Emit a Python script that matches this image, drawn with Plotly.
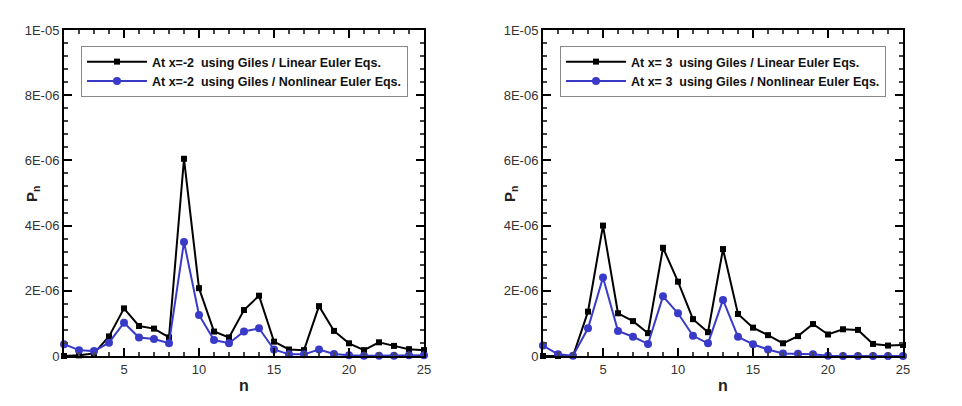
import plotly.graph_objects as go

n = list(range(1, 26))

left_linear = [0.0, 0.02, 0.08, 0.6, 1.46, 0.92, 0.84, 0.57, 6.05, 2.08, 0.75, 0.57, 1.41, 1.85,
               0.44, 0.2, 0.18, 1.53, 0.77, 0.39, 0.18, 0.42, 0.31, 0.21, 0.18]
left_nonlinear = [0.36, 0.18, 0.15, 0.41, 1.02, 0.57, 0.52, 0.39, 3.5, 1.26, 0.49, 0.39, 0.75, 0.85,
                  0.2, 0.05, 0.05, 0.2, 0.06, 0.02, 0.01, 0.01, 0.01, 0.02, 0.02]
right_linear = [0.0, 0.0, 0.0, 1.36, 4.0, 1.31, 1.07, 0.7, 3.32, 2.28, 1.13, 0.73, 3.28, 1.29,
                0.87, 0.64, 0.39, 0.61, 0.98, 0.66, 0.82, 0.8, 0.37, 0.32, 0.34]
right_nonlinear = [0.32, 0.05, 0.01, 0.85, 2.41, 0.77, 0.59, 0.37, 1.83, 1.31, 0.62, 0.39, 1.72, 0.59,
                   0.36, 0.2, 0.08, 0.07, 0.05, 0.01, 0.0, 0.0, 0.0, 0.0, 0.0]
scale = 1e-6

ytick_vals = [0, 2e-6, 4e-6, 6e-6, 8e-6, 1e-5]
ytick_text = ["0", "2E-06", "4E-06", "6E-06", "8E-06", "1E-05"]
xtick_vals = [5, 10, 15, 20, 25]

names_left = ["At x=-2\u00a0 using Giles / Linear Euler Eqs.",
              "At x=-2\u00a0 using Giles / Nonlinear Euler Eqs."]
names_right = ["At x= 3\u00a0 using Giles / Linear Euler Eqs.",
               "At x= 3\u00a0 using Giles / Nonlinear Euler Eqs."]
y_title = "P<sub>n</sub>"
x_title = "n"

BLUE = "#3a3ac8"
FONT = "Liberation Sans, Arial, sans-serif"

fig = go.Figure()

def add_pair(lin, nonlin, names, xa, ya, leg):
    fig.add_trace(go.Scatter(x=n, y=[v * scale for v in lin], mode="lines+markers", name=names[0],
                             line=dict(color="black", width=2),
                             marker=dict(symbol="square", size=6, color="black"),
                             xaxis=xa, yaxis=ya, legend=leg, cliponaxis=False))
    fig.add_trace(go.Scatter(x=n, y=[v * scale for v in nonlin], mode="lines+markers", name=names[1],
                             line=dict(color=BLUE, width=2),
                             marker=dict(symbol="circle", size=8, color=BLUE),
                             xaxis=xa, yaxis=ya, legend=leg, cliponaxis=False))

add_pair(left_linear, left_nonlinear, names_left, "x", "y", "legend")
add_pair(right_linear, right_nonlinear, names_right, "x2", "y2", "legend2")

W, H = 962, 406
xd1 = [64 / W, 424 / W]
xd2 = [543 / W, 903 / W]
yd = [(H - 356) / H, (H - 30) / H]

def xaxis(domain, anchor):
    return dict(domain=domain, anchor=anchor, range=[1, 25], tickvals=xtick_vals, automargin=False,
                ticks="inside", ticklen=8, tickwidth=1.5, tickcolor="black",
                showline=True, linecolor="black", linewidth=2, mirror="allticks",
                showgrid=False, zeroline=False,
                minor=dict(dtick=1, tick0=0, ticks="inside", ticklen=4, tickcolor="#444", showgrid=False),
                tickfont=dict(family=FONT, size=13, color="#333"),
                title=dict(text=x_title, font=dict(family=FONT, size=16, color="#222", weight="bold"), standoff=4))

def yaxis(domain, anchor):
    return dict(domain=domain, anchor=anchor, range=[0, 1e-5], tickvals=ytick_vals, ticktext=ytick_text,
                automargin=False,
                ticks="inside", ticklen=8, tickwidth=1.5, tickcolor="black",
                showline=True, linecolor="black", linewidth=2, mirror="allticks",
                showgrid=False, zeroline=False,
                minor=dict(dtick=0.4e-6, tick0=0, ticks="inside", ticklen=4, tickcolor="#444", showgrid=False),
                tickfont=dict(family=FONT, size=13, color="#333"))

def legend(x0):
    return dict(x=x0 / W, y=1 - 46 / H, xanchor="left", yanchor="top",
                bgcolor="white", bordercolor="#888", borderwidth=1,
                font=dict(family=FONT, size=12.5, color="#111", weight="bold"),
                tracegroupgap=0, itemwidth=60)

annotations = []
for xpx in (32, 510):
    annotations.append(dict(text=y_title, x=xpx / W, y=1 - 194 / H, xref="paper", yref="paper",
                            xanchor="center", yanchor="middle", showarrow=False, textangle=-90,
                            font=dict(family=FONT, size=15, color="#222", weight="bold")))

fig.update_layout(
    width=W, height=H, margin=dict(l=0, r=0, t=0, b=0),
    paper_bgcolor="white", plot_bgcolor="white", showlegend=True,
    xaxis=xaxis(xd1, "y"), yaxis=yaxis(yd, "x"),
    xaxis2=xaxis(xd2, "y2"), yaxis2=yaxis(yd, "x2"),
    legend=legend(81), legend2=legend(560),
    annotations=annotations,
)

fig.write_html("out.html")
